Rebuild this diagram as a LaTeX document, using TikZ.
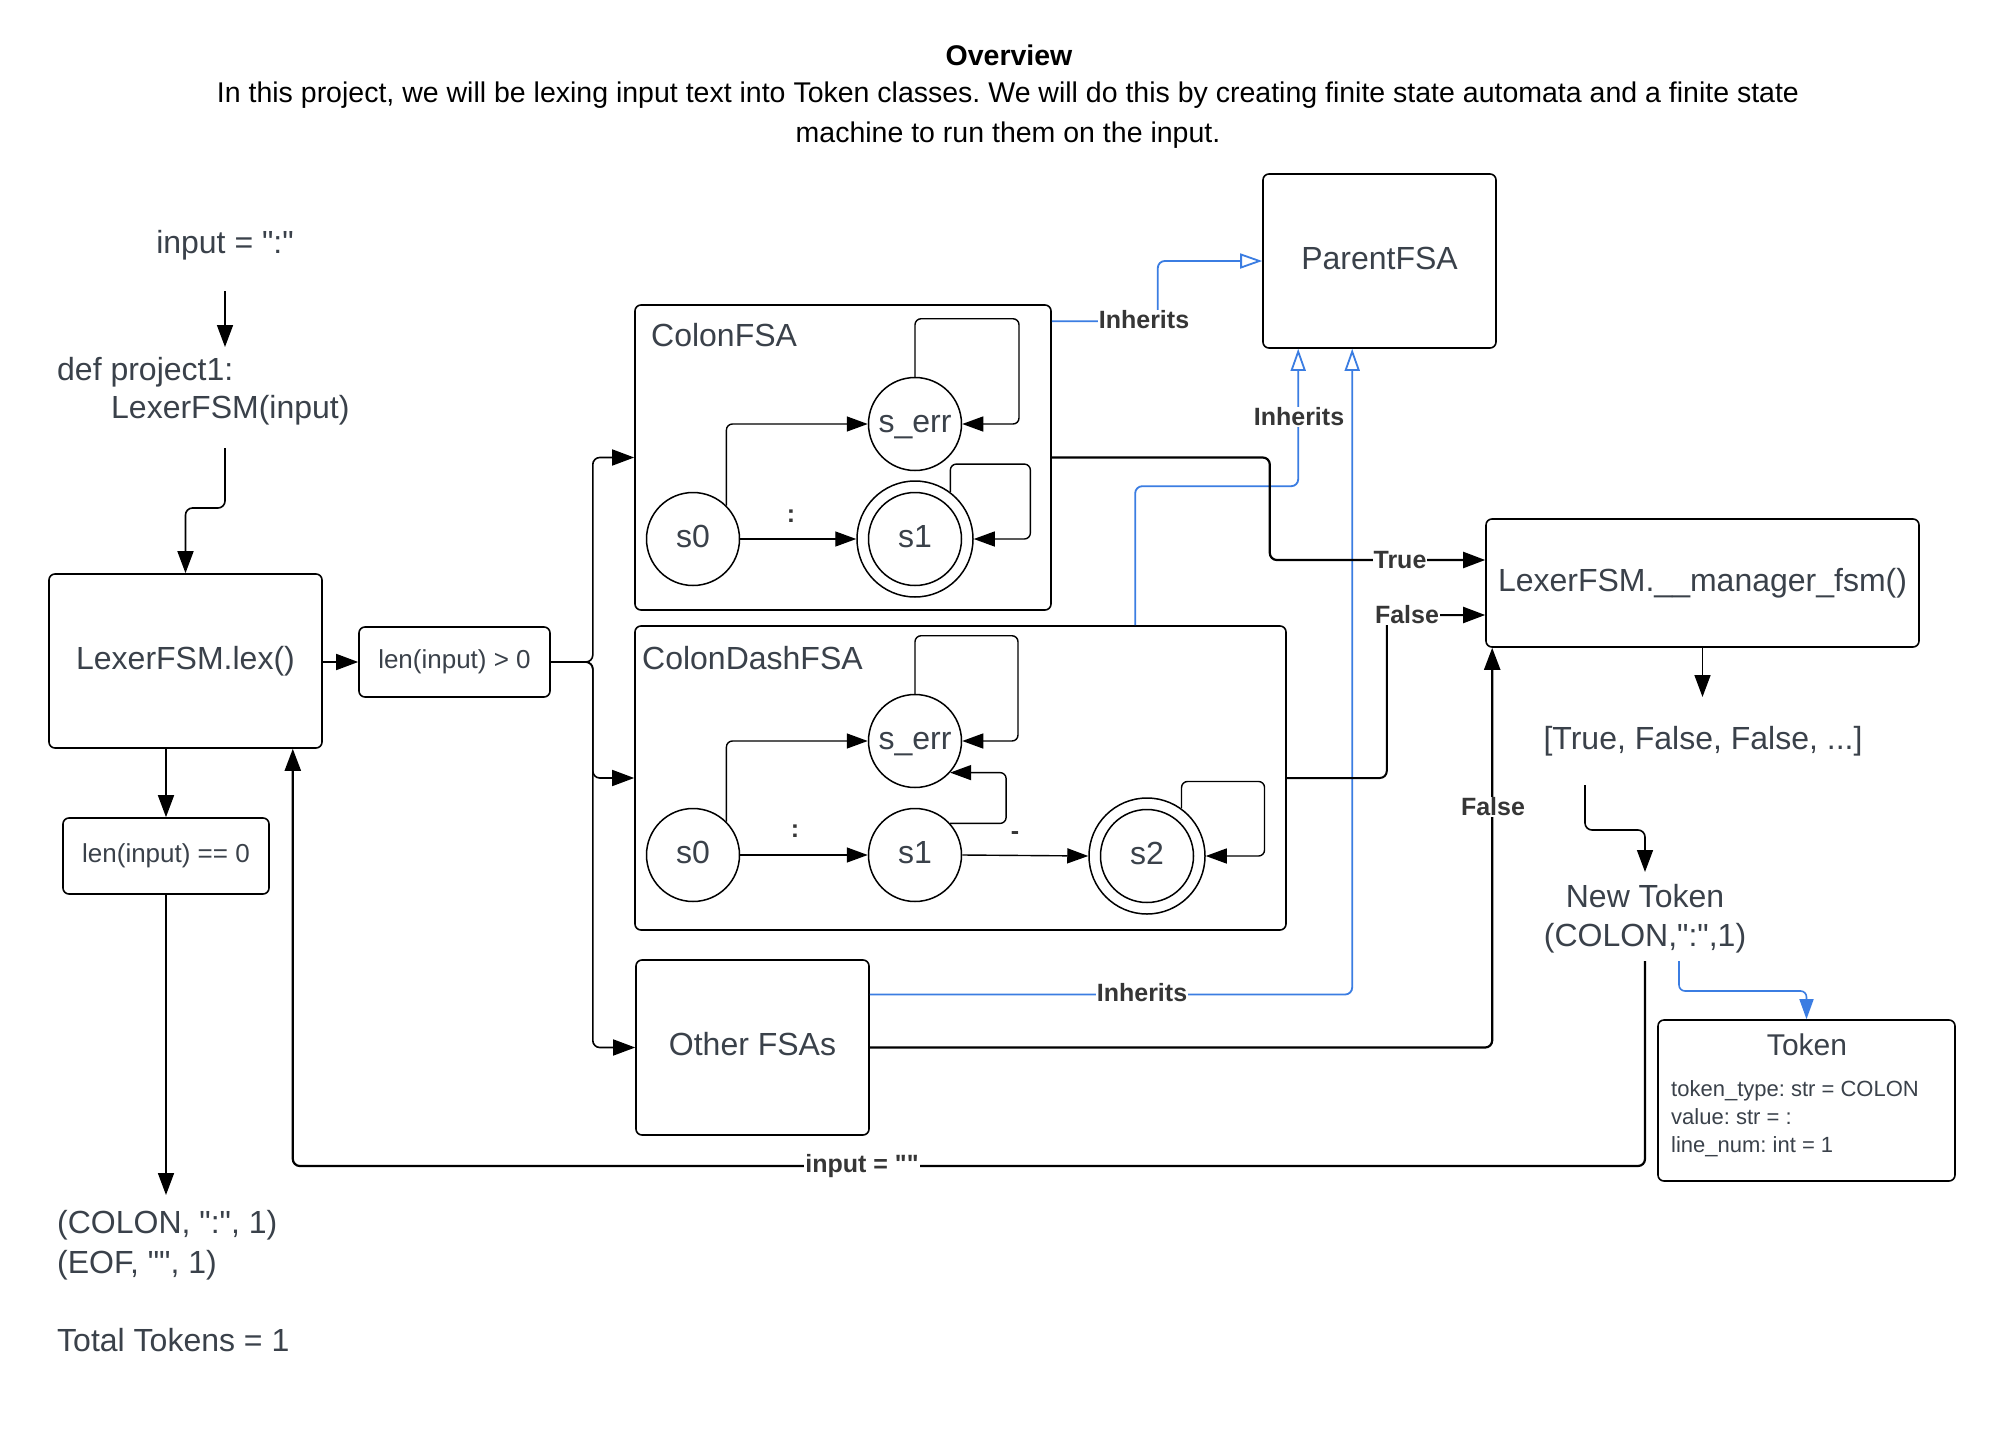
\documentclass[tikz,border=0pt]{standalone}
\usepackage{fontspec}
\setmainfont{Liberation Sans}[Ligatures=TeXOff]
\usetikzlibrary{arrows.meta,calc}
\definecolor{txt}{HTML}{3A414A}
\definecolor{lbltxt}{HTML}{363636}
\definecolor{inh}{HTML}{3B7DE2}
\frenchspacing

\begin{document}
\begin{tikzpicture}[x=1pt,y=-1pt,
  big/.style={font=\fontsize{32}{39}\selectfont},
  bigc/.style={big, text height=24pt, text depth=8pt},
  mid/.style={font=\fontsize{26}{31}\selectfont},
  small/.style={font=\fontsize{22}{28}\selectfont},
  box/.style={draw=black, line width=1.6pt, rounded corners=6pt, inner sep=0pt, text=txt},
  plain/.style={text=txt, inner sep=0pt},
  lbl/.style={font=\fontsize{25}{30}\selectfont\bfseries, text=lbltxt, fill=white, inner sep=1pt},
  sym/.style={font=\fontsize{25}{30}\selectfont\bfseries, text=lbltxt, inner sep=0pt},
  state/.style={circle, draw, line width=1.5pt, minimum size=93pt, inner sep=0pt, text=txt, bigc},
  accept/.style={circle, draw, line width=1.5pt, minimum size=116pt, inner sep=0pt},
  arr/.style={line width=1.6pt, -{Triangle[length=22pt,width=16pt]}, rounded corners=7pt},
  thickarr/.style={arr, line width=2.2pt},
  farr/.style={line width=1.4pt, -{Triangle[length=21pt,width=15pt]}, rounded corners=6pt},
  inharr/.style={draw=inh, line width=1.8pt, -{Triangle[open,length=22pt,width=15pt]}, rounded corners=7pt},
  tokarr/.style={draw=inh, line width=1.6pt, -{Triangle[length=20pt,width=14pt]}, rounded corners=6pt},
]
\fill[white] (0,0) rectangle (1990,1445);
\useasboundingbox (0,0) rectangle (1990,1445);

% heading
\node[font=\fontsize{28.5}{34}\selectfont\bfseries] (title) at (1009,55) {Overview};
\node[font=\fontsize{28.5}{40}\selectfont, align=center] (sub) at (1008,115)
  {In this project, we will be lexing input text into Token classes. We will do this by creating finite state automata and a finite state\\machine to run them on the input.};

% entry point
\node[plain,big] (input) at (225,245) {input = ":"};
\node[plain,big,anchor=west] (def) at (57,372) {def project1:};
\node[plain,big,anchor=west] (defcall) at (111,410) {LexerFSM(input)};

\node[box,bigc,minimum width=273pt,minimum height=174pt] (lex) at (185.5,661) {LexerFSM.lex()};
\node[box,mid,minimum width=191pt,minimum height=70pt] (lengt) at (454.5,662) {len(input) > 0};
\node[box,mid,minimum width=206pt,minimum height=76pt] (leneq) at (166,856) {len(input) == 0};

% automata
\node[box,minimum width=416pt,minimum height=305pt] (colon) at (843,457.5) {};
\node[plain,big,anchor=west] (colonlbl) at (651,335) {ColonFSA};
\node[box,minimum width=651pt,minimum height=304pt] (colondash) at (960.5,778) {};
\node[plain,big,anchor=west] (colondashlbl) at (642,658) {ColonDashFSA};
\node[box,bigc,minimum width=233pt,minimum height=175pt] (other) at (752.5,1047.5) {Other FSAs};
\node[box,bigc,minimum width=233pt,minimum height=174pt] (parent) at (1379.5,261) {ParentFSA};

% manager and results
\node[box,bigc,minimum width=433pt,minimum height=128pt] (manager) at (1702.5,583) {LexerFSM.\_\_manager\_fsm()};
\node[plain,big] (list) at (1703,741) {[True, False, False, ...]};
\node[plain,big,align=center] (newtok) at (1645,919) {New Token\\(COLON,":",1)};
\node[box,minimum width=297pt,minimum height=161pt] (token) at (1806.5,1100.5) {};
\node[plain,font=\fontsize{30}{36}\selectfont] (tokentitle) at (1807,1045) {Token};
\node[plain,small,anchor=west,align=left] (tokenfields) at (1671,1119)
  {token\_type: str = COLON\\value: str = :\\line\_num: int = 1};

% output
\node[plain,big,anchor=west] (out1) at (57,1225) {(COLON, ":", 1)};
\node[plain,big,anchor=west] (out2) at (57,1265) {(EOF, "", 1)};
\node[plain,big,anchor=west] (out3) at (57,1340) {Total Tokens = 1};

% ColonFSA states
\node[state] (cs0) at (693,539) {s0};
\node[state] (cserr) at (915,424) {s\_err};
\node[accept] (cs1) at (915,539) {};
\node[state] (cs1in) at (cs1) {s1};
\draw[farr] (cs0.45) |- (cserr.west);
\draw[farr] (cserr.north) -- ++(0,-58) -- ++(104,0) |- (cserr.east);
\draw[farr] (cs0.east) -- (cs1.west);
\node[sym] (ccolon) at (791,516) {:};
\draw[farr] (cs1.53) -- ++(0,-28) -- ++(80,0) |- (cs1.east);

% ColonDashFSA states
\node[state] (ds0) at (693,855) {s0};
\node[state] (dserr) at (915,741) {s\_err};
\node[state] (ds1) at (915,855) {s1};
\node[accept] (ds2) at (1147,856) {};
\node[state] (ds2in) at (ds2) {s2};
\draw[farr] (ds0.45) |- (dserr.west);
\draw[farr] (dserr.north) -- ++(0,-58) -- ++(103,0) |- (dserr.east);
\draw[farr] (ds1.42) -- ++(56,0) |- (dserr.-42);
\draw[farr] (ds0.east) -- (ds1.west);
\node[sym] (dcolon) at (795,831) {:};
\draw[farr] (ds1.east) -- (ds2.west);
\node[sym] (ddash) at (1015,836) {-};
\draw[farr] (ds2.54) -- ++(0,-27) -- ++(83,0) |- (ds2.east);

% flow of the lexer
\draw[arr] ($(input.center)+(0,46)$) -- ($(input.center |- def.center)+(0,-25)$);
\draw[arr] ($(input.center |- defcall.center)+(0,38)$) -- ++(0,60) -| (lex.north);
\draw[arr] (lex.east |- lengt.west) -- (lengt.west);
\draw[arr] (lengt.east) -- ++(42,0) |- (colon.west);
\draw[arr] (lengt.east) -- ++(42,0) |- (colondash.west);
\draw[arr] (lengt.east) -- ++(42,0) |- (other.west);
\draw[arr] (leneq.north |- lex.south) -- (leneq.north);
\draw[arr] (leneq.south) -- ($(leneq.south |- out1.center)+(0,-30)$);

% inheritance
\draw[inharr] ($(colon.north east)+(0,17)$) -- ++(106,0) |- (parent.west);
\draw[inharr] ($(colondash.north west)+(501,0)$) -- ++(0,-139) -| ($(parent.south west)+(36,0)$);
\draw[inharr] ($(other.east)+(0,-53)$) -| ($(parent.south west)+(90,0)$);
\node[lbl] (inh1) at (1144,320) {Inherits};
\node[lbl] (inh2) at (1299,417) {Inherits};
\node[lbl] (inh3) at (1142,993) {Inherits};

% results of the automata
\draw[thickarr] (colon.east) -- ++(218,0) |- ($(manager.west)+(0,-23)$);
\draw[arr, line width=2pt] (colondash.east) -- ++(100,0) |- ($(manager.west)+(0,32)$);
\draw[thickarr] (other.east) -| ($(manager.south west)+(7,0)$);
\node[lbl] (truelbl) at (1400,560) {True};
\node[lbl] (false1) at (1407,615) {False};
\node[lbl] (false2) at (1493,807) {False};

\draw[arr] (manager.south) -- ($(manager.south |- list.center)+(0,-44)$);
\draw[arr] ($(list.center)+(-118,44)$) -- ++(0,45) -| ($(newtok.center)+(0,-47)$);
\draw[tokarr] ($(newtok.center)+(34,42)$) -- ++(0,30) -| (token.north);

% loop back to the lexer
\draw[thickarr] ($(newtok.center)+(0,42)$) -- ++(0,205) -| ($(lex.south east)+(-30,0)$);
\node[lbl] (retlbl) at (862,1166) {input = ""};
\end{tikzpicture}
\end{document}
